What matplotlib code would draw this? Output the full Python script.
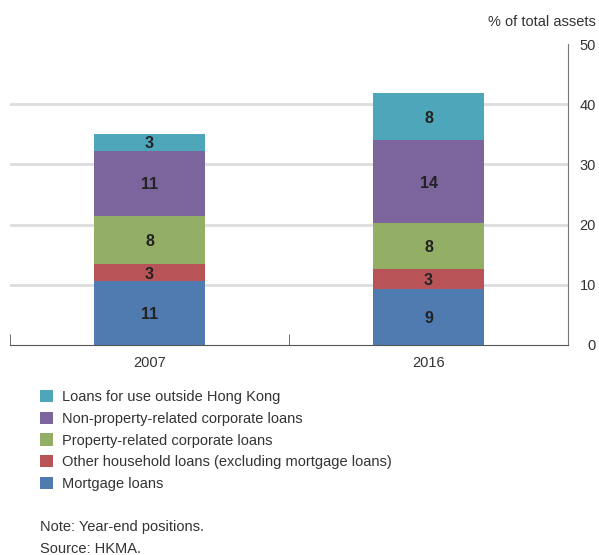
import matplotlib.pyplot as plt

years = ["2007", "2016"]
series_names = [
    "Mortgage loans",
    "Other household loans (excluding mortgage loans)",
    "Property-related corporate loans",
    "Non-property-related corporate loans",
    "Loans for use outside Hong Kong",
]
mortgage = [10.6, 9.3]
other_household = [2.9, 3.4]
property_corp = [8.0, 7.6]
non_property_corp = [10.8, 13.8]
outside_hk = [2.8, 7.7]
bar_labels = [
    ["11", "9"],
    ["3", "3"],
    ["8", "8"],
    ["11", "14"],
    ["3", "8"],
]
colors = ["#4F7BB0", "#B85458", "#93AF66", "#7B659C", "#4EA6BA"]

plt.rcParams["font.family"] = ["Liberation Sans", "DejaVu Sans"]

fig = plt.figure(figsize=(5.99, 5.55), dpi=100)
ax = fig.add_axes([10 / 599, 1 - 345 / 555, (568 - 10) / 599, (345 - 44) / 555])

values = [mortgage, other_household, property_corp, non_property_corp, outside_hk]
x = list(range(len(years)))
bottom = [0.0] * len(years)
handles = []
for vals, labels, color, name in zip(values, bar_labels, colors, series_names):
    bars = ax.bar(x, vals, width=0.4, bottom=bottom, color=color, label=name, zorder=3)
    handles.append(bars)
    for xi, v, b, lab in zip(x, vals, bottom, labels):
        ax.text(xi, b + v / 2 - 0.3, lab, ha="center", va="center", fontsize=11.5,
                fontweight="bold", color="#222222", zorder=4)
    bottom = [b + v for b, v in zip(bottom, vals)]

ax.set_xlim(-0.5, 1.5)
ax.set_ylim(0, 50)
ax.set_yticks([0, 10, 20, 30, 40, 50])
ax.yaxis.tick_right()
ax.tick_params(axis="y", length=0, pad=20, labelsize=10.5, labelcolor="#333333")
for lab in ax.get_yticklabels():
    lab.set_horizontalalignment("right")
ax.set_xticks(x)
ax.set_xticklabels(years)
ax.tick_params(axis="x", length=0, pad=8, labelsize=10.5, labelcolor="#333333")
ax.set_xticks([-0.5, 0.5, 1.5], minor=True)
ax.tick_params(axis="x", which="minor", direction="in", length=8, color="#555555")

for yv in [10, 20, 30, 40]:
    ax.axhline(yv, color="#dddddd", linewidth=2, zorder=1)

ax.spines["top"].set_visible(False)
ax.spines["left"].set_visible(False)
ax.spines["right"].set_color("#777777")
ax.spines["bottom"].set_color("#555555")

fig.text(596 / 599, 1 - 22 / 555, "% of total assets", ha="right", va="center",
         fontsize=10.5, color="#333333")

leg = fig.legend(handles=handles[::-1], loc="upper left",
                 bbox_to_anchor=(27 / 599, 1 - 377 / 555), frameon=False,
                 fontsize=10.5, handlelength=0.9, handleheight=0.9,
                 handletextpad=0.6, labelspacing=0.52, labelcolor="#333333")

fig.text(40 / 599, 1 - 527 / 555, "Note: Year-end positions.", ha="left", va="center",
         fontsize=10.5, color="#333333")
fig.text(40 / 599, 1 - 549 / 555, "Source: HKMA.", ha="left", va="center",
         fontsize=10.5, color="#333333")

fig.savefig("out.png", dpi=100)
